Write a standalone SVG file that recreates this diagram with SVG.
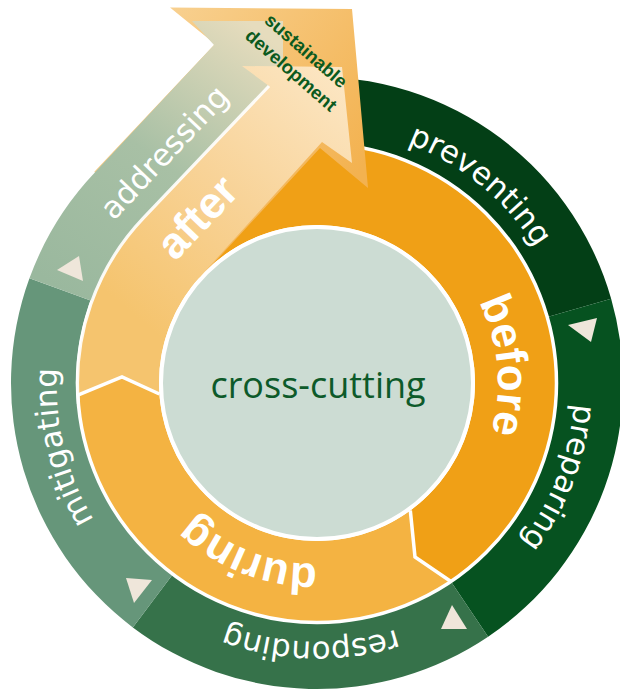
<svg xmlns="http://www.w3.org/2000/svg" width="620" height="691" viewBox="0 0 620 691">
<defs>
<linearGradient id="gFrame" gradientUnits="userSpaceOnUse" x1="170" y1="10" x2="368" y2="160">
<stop offset="0" stop-color="#F8D08F"/><stop offset="1" stop-color="#F3B250"/>
</linearGradient>
<linearGradient id="gAddr" gradientUnits="userSpaceOnUse" x1="60" y1="290" x2="250" y2="25">
<stop offset="0" stop-color="#9AB89E"/><stop offset="0.5" stop-color="#A8C0A5"/><stop offset="1" stop-color="#E6DCBD"/>
</linearGradient>
<linearGradient id="gAfter" gradientUnits="userSpaceOnUse" x1="140" y1="320" x2="345" y2="80">
<stop offset="0" stop-color="#F5C46E"/><stop offset="0.5" stop-color="#F8D398"/><stop offset="1" stop-color="#FCE6C3"/>
</linearGradient>
<path id="pPrev" d="M269.91,131.37 A258,258 0 0 1 574.99,380.32"/>
<path id="pPrep" d="M543.34,259.67 A258,258 0 0 1 400.50,627.34"/>
<path id="pResp" d="M510.73,554.63 A258,258 0 0 1 115.65,544.36"/>
<path id="pMit" d="M196.24,615.31 A258,258 0 0 1 104.17,236.94"/>
<path id="pBefore" d="M420.04,234.19 A181,181 0 0 1 445.66,510.31"/>
<path id="pDuring" d="M403.37,542.07 A181,181 0 0 1 145.35,440.43"/>
</defs>
<style>
.ring{font-family:"DejaVu Sans",Verdana,sans-serif;font-size:31px;fill:#fff;}
.phase{font-family:"Liberation Sans",Arial,sans-serif;font-weight:bold;font-size:44px;fill:#fff;}
.sd{font-family:"Liberation Sans",Arial,sans-serif;font-weight:bold;font-size:18.5px;fill:#0B5A1E;}
.tri{fill:#EFE6DA;}
.sep{fill:none;stroke:#fff;stroke-width:3.5;}
</style>

<g id="preventing">
<path fill="#033F16" d="M290.33,78.17 A306,306 0 0 1 611.15,298.65 L545.78,317.40 A238,238 0 0 0 296.26,145.91 Z"/>
<text class="ring"><textPath href="#pPrev" startOffset="50%" text-anchor="middle">preventing</textPath></text>
</g>
<g id="preparing">
<path fill="#065220" d="M611.15,298.65 A306,306 0 0 1 488.11,636.69 L450.09,580.31 A238,238 0 0 0 545.78,317.40 Z"/>
<text class="ring"><textPath href="#pPrep" startOffset="50%" text-anchor="middle">preparing</textPath></text>
</g>
<g id="responding">
<path fill="#36724A" d="M488.11,636.69 A306,306 0 0 1 132.84,627.38 L173.77,573.08 A238,238 0 0 0 450.09,580.31 Z"/>
<text class="ring"><textPath href="#pResp" startOffset="50%" text-anchor="middle">responding</textPath></text>
</g>
<g id="mitigating">
<path fill="#66967A" d="M132.84,627.38 A306,306 0 0 1 29.45,278.34 L93.35,301.60 A238,238 0 0 0 173.77,573.08 Z"/>
<text class="ring"><textPath href="#pMit" startOffset="50%" text-anchor="middle">mitigating</textPath></text>
</g>

<g id="before">
<path fill="#F0A016" d="M143.27,218.14 A239.5,239.5 0 1 1 450.93,581.55 L415,557 L410.32,510.50 A158,158 0 1 0 202.39,274.24 Z"/>
<text class="phase"><textPath href="#pBefore" startOffset="50%" text-anchor="middle">before</textPath></text>
</g>
<g id="during">
<path fill="#F4B342" d="M450.93,581.55 A239.5,239.5 0 0 1 77.81,395.12 L122,377 L159.39,394.02 A158,158 0 0 0 410.32,510.50 L415,557 Z"/>
<text class="phase"><textPath href="#pDuring" startOffset="50%" text-anchor="middle">during</textPath></text>
</g>

<circle class="sep" cx="317" cy="383" r="239.5"/>

<g id="after">
<path fill="url(#gFrame)" d="M94.3,171.7 L215,44 L170,7.5 L352,9 L368,188 L320,148 L200,278 Z"/>
<path id="addressing-band" fill="url(#gAddr)" d="M29.45,278.34 A306,306 0 0 1 95.04,172.36 L214,45 L192,21 L283,21 L283,95 L269,86 L143.27,218.14 A239.5,239.5 0 0 0 91.94,301.09 Z"/>
<path fill="url(#gAfter)" d="M77.81,395.12 A239.5,239.5 0 0 1 143.27,218.14 L269,86 L242,66 L342,67 L352,163 L322,142 L202.39,274.24 A158,158 0 0 0 159.39,394.02 L122,377 Z"/>
<path fill="none" stroke="#fff" stroke-width="3.2" stroke-opacity="0.9" d="M78.41,403.87 A239.5,239.5 0 0 1 143.27,218.14 L269,86"/>
<text class="ring" x="172.1" y="159.6" text-anchor="middle" transform="rotate(-46.5 172.1 159.6)">addressing</text>
<text class="phase" font-size="49" x="208" y="227.5" text-anchor="middle" transform="rotate(-46.5 208 227.5)">after</text>
<text class="sd" x="302" y="55.5" text-anchor="middle" transform="rotate(41 302 55.5)">sustainable</text>
<text class="sd" x="287" y="75" text-anchor="middle" transform="rotate(41 287 75)">development</text>
</g>

<g id="connectors">
<polyline class="sep" stroke-width="3" points="410.32,510.50 415,557 450.93,581.55"/>
<polyline class="sep" stroke-width="3" points="159.39,394.02 122,377 77.81,395.12"/>
<polygon class="tri" points="57,270 79,256 83,281"/>
<polygon class="tri" points="568,325 597,318 591,342"/>
<polygon class="tri" points="452,605 441,629 467,629"/>
<polygon class="tri" points="126,578 152,580 134,603"/>
</g>

<g id="cross-cutting">
<circle cx="317" cy="383" r="156" fill="#CCDCD3" stroke="#fff" stroke-width="4"/>
<text x="318" y="398" font-family="'Open Sans',sans-serif" font-size="36" fill="#0D5A2A" text-anchor="middle">cross-cutting</text>
</g>
</svg>
